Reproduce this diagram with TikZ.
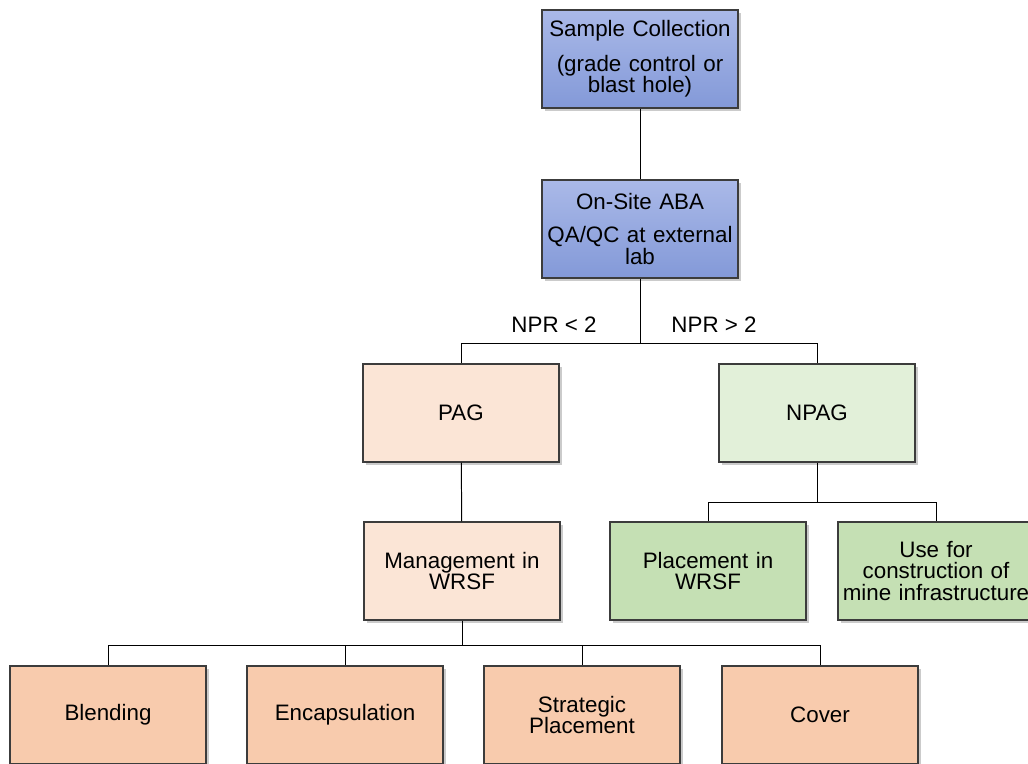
\documentclass[tikz,border=0pt]{standalone}
\usepackage{fontspec}
\setmainfont{Liberation Sans}
\usetikzlibrary{shadows}

\definecolor{boxline}{HTML}{3C3C3C}
\definecolor{blueTop}{HTML}{AAB9E8}
\definecolor{blueBot}{HTML}{8399D8}
\definecolor{pagFill}{HTML}{FBE5D6}
\definecolor{npagFill}{HTML}{E2F0D9}
\definecolor{placeFill}{HTML}{C5E0B4}
\definecolor{mgmtFill}{HTML}{F8CBAD}

\tikzset{
    box/.style={draw=boxline, line width=0.9pt, minimum width=4.9cm, minimum height=2.45cm,
        text width=4.75cm, align=center, inner sep=1pt,
        font=\fontsize{15.9}{15.3}\selectfont,
        drop shadow={shadow xshift=0.07cm, shadow yshift=-0.07cm, fill=black!45, opacity=0.45}},
    labbox/.style={box, top color=blueTop, bottom color=blueBot},
    pagbox/.style={box, fill=pagFill},
    npagbox/.style={box, fill=npagFill},
    placebox/.style={box, fill=placeFill},
    optbox/.style={box, fill=mgmtFill},
    link/.style={draw=black, line width=0.7pt},
    cond/.style={font=\fontsize{15.9}{15.3}\selectfont, inner sep=0pt}
}

\begin{document}
\begin{tikzpicture}
    \useasboundingbox (0, 0) rectangle (25.7, 19.075);

    \node[labbox] (sample) at (16, 17.6) {Sample Collection\\[9pt] (grade control or\\ blast hole)};
    \node[labbox] (aba) at (16, 13.35) {On-Site ABA\\[8pt] QA/QC at external\\ lab};

    \node[pagbox] (pag) at (11.525, 8.75) {PAG};
    \node[npagbox] (npag) at (20.425, 8.75) {NPAG};

    \node[pagbox] (mgmt) at (11.55, 4.8) {Management in\\ WRSF};
    \node[placebox] (place) at (17.7, 4.8) {Placement in\\ WRSF};
    \node[placebox] (use) at (23.4, 4.8) {Use for\\ construction of\\ mine infrastructure};

    \node[optbox] (blend) at (2.7, 1.2) {Blending};
    \node[optbox] (encap) at (8.625, 1.2) {Encapsulation};
    \node[optbox] (strat) at (14.55, 1.2) {Strategic\\ Placement};
    \node[optbox] (cover) at (20.5, 1.2) {Cover};

    \coordinate (split) at (16, 10.5);
    \coordinate (nsplit) at (20.425, 6.525);
    \coordinate (msplit) at (11.55, 2.95);

    \node[cond] (lt) at (13.85, 10.97) {NPR < 2};
    \node[cond] (gt) at (17.85, 10.97) {NPR > 2};

    \draw[link] (sample) -- (aba);
    \draw[link] (aba) -- (split);
    \draw[link] (split) -| (pag);
    \draw[link] (split) -| (npag);

    \draw[link] (pag) -- (mgmt);
    \draw[link] (npag) -- (nsplit);
    \draw[link] (nsplit) -| (place);
    \draw[link] (nsplit) -| (use);

    \draw[link] (mgmt) -- (msplit);
    \draw[link] (msplit) -| (blend);
    \draw[link] (msplit) -| (encap);
    \draw[link] (msplit) -| (strat);
    \draw[link] (msplit) -| (cover);
\end{tikzpicture}
\end{document}
